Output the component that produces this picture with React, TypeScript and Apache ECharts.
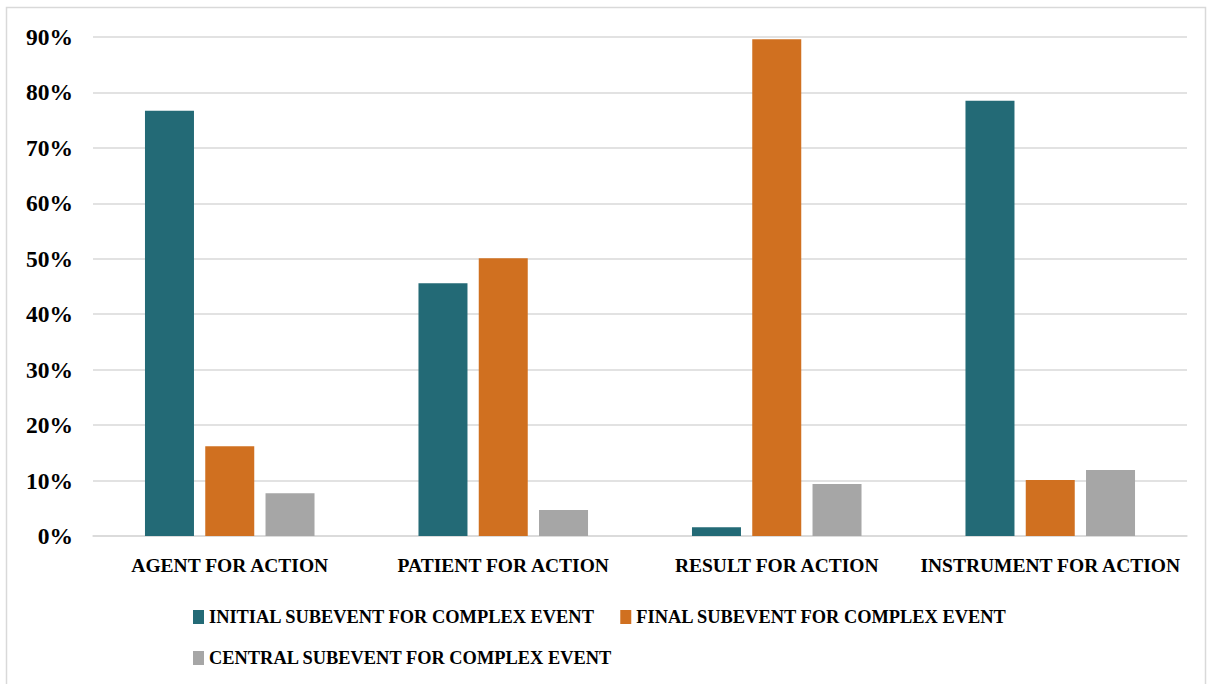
import React, { useEffect, useRef } from "react";
import * as echarts from "echarts";

const categories = ["AGENT FOR ACTION", "PATIENT FOR ACTION", "RESULT FOR ACTION", "INSTRUMENT FOR ACTION"];
const seriesNames = [
  "INITIAL SUBEVENT FOR COMPLEX EVENT",
  "FINAL SUBEVENT FOR COMPLEX EVENT",
  "CENTRAL SUBEVENT FOR COMPLEX EVENT",
];
const initialValues = [76.7, 45.6, 1.6, 78.5];
const finalValues = [16.2, 50.1, 89.6, 10.1];
const centralValues = [7.7, 4.7, 9.4, 11.9];
const colors = ["#236A76", "#D07020", "#A6A6A6"];

const FONT = "'Liberation Serif', 'Times New Roman', serif";

export default function App() {
  const ref = useRef<HTMLDivElement>(null);
  useEffect(() => {
    if (!ref.current) return;
    const chart = echarts.init(ref.current, null, { renderer: "svg" });
    const values = [initialValues, finalValues, centralValues];
    const legendText = { fontFamily: FONT, fontWeight: "bold", fontSize: 18.4, color: "#000", padding: [0, 0, 0, 0] };
    chart.setOption({
      animation: false,
      backgroundColor: "#ffffff",
      graphic: [
        {
          type: "rect",
          shape: { x: 6.5, y: 7.5, width: 1199, height: 690 },
          style: { fill: "none", stroke: "#d9d9d9", lineWidth: 1.5 },
          silent: true,
        },
      ],
      grid: { left: 93, right: 25, top: 37, bottom: 148, containLabel: false },
      xAxis: {
        type: "category",
        data: categories,
        axisLine: { lineStyle: { color: "#d9d9d9", width: 1.5 } },
        axisTick: { show: false },
        axisLabel: {
          interval: 0,
          color: "#000",
          fontFamily: FONT,
          fontWeight: "bold",
          fontSize: 19.5,
          margin: 19,
        },
      },
      yAxis: {
        type: "value",
        min: 0,
        max: 90,
        interval: 10,
        axisLine: { show: false },
        axisTick: { show: false },
        splitLine: { lineStyle: { color: "#d9d9d9", width: 1.5 } },
        axisLabel: {
          color: "#000",
          fontFamily: FONT,
          fontWeight: "bold",
          fontSize: 23.5,
          margin: 20,
          formatter: (v: number) => `${v}%`,
        },
      },
      legend: [
        {
          data: [seriesNames[0], seriesNames[1]],
          left: 188,
          top: 603,
          itemWidth: 11,
          itemHeight: 14,
          itemGap: 25,
          icon: "rect",
          textStyle: legendText,
        },
        {
          data: [seriesNames[2]],
          left: 188,
          top: 644,
          itemWidth: 11,
          itemHeight: 14,
          icon: "rect",
          textStyle: legendText,
        },
      ],
      series: seriesNames.map((name, i) => ({
        name,
        type: "bar",
        data: values[i],
        barWidth: 49,
        barGap: "23%",
        itemStyle: { color: colors[i] },
      })),
    });
    return () => chart.dispose();
  }, []);
  return (
    <div
      ref={ref}
      style={{ position: "fixed", left: 0, top: 0, width: 1212, height: 684 }}
    />
  );
}
